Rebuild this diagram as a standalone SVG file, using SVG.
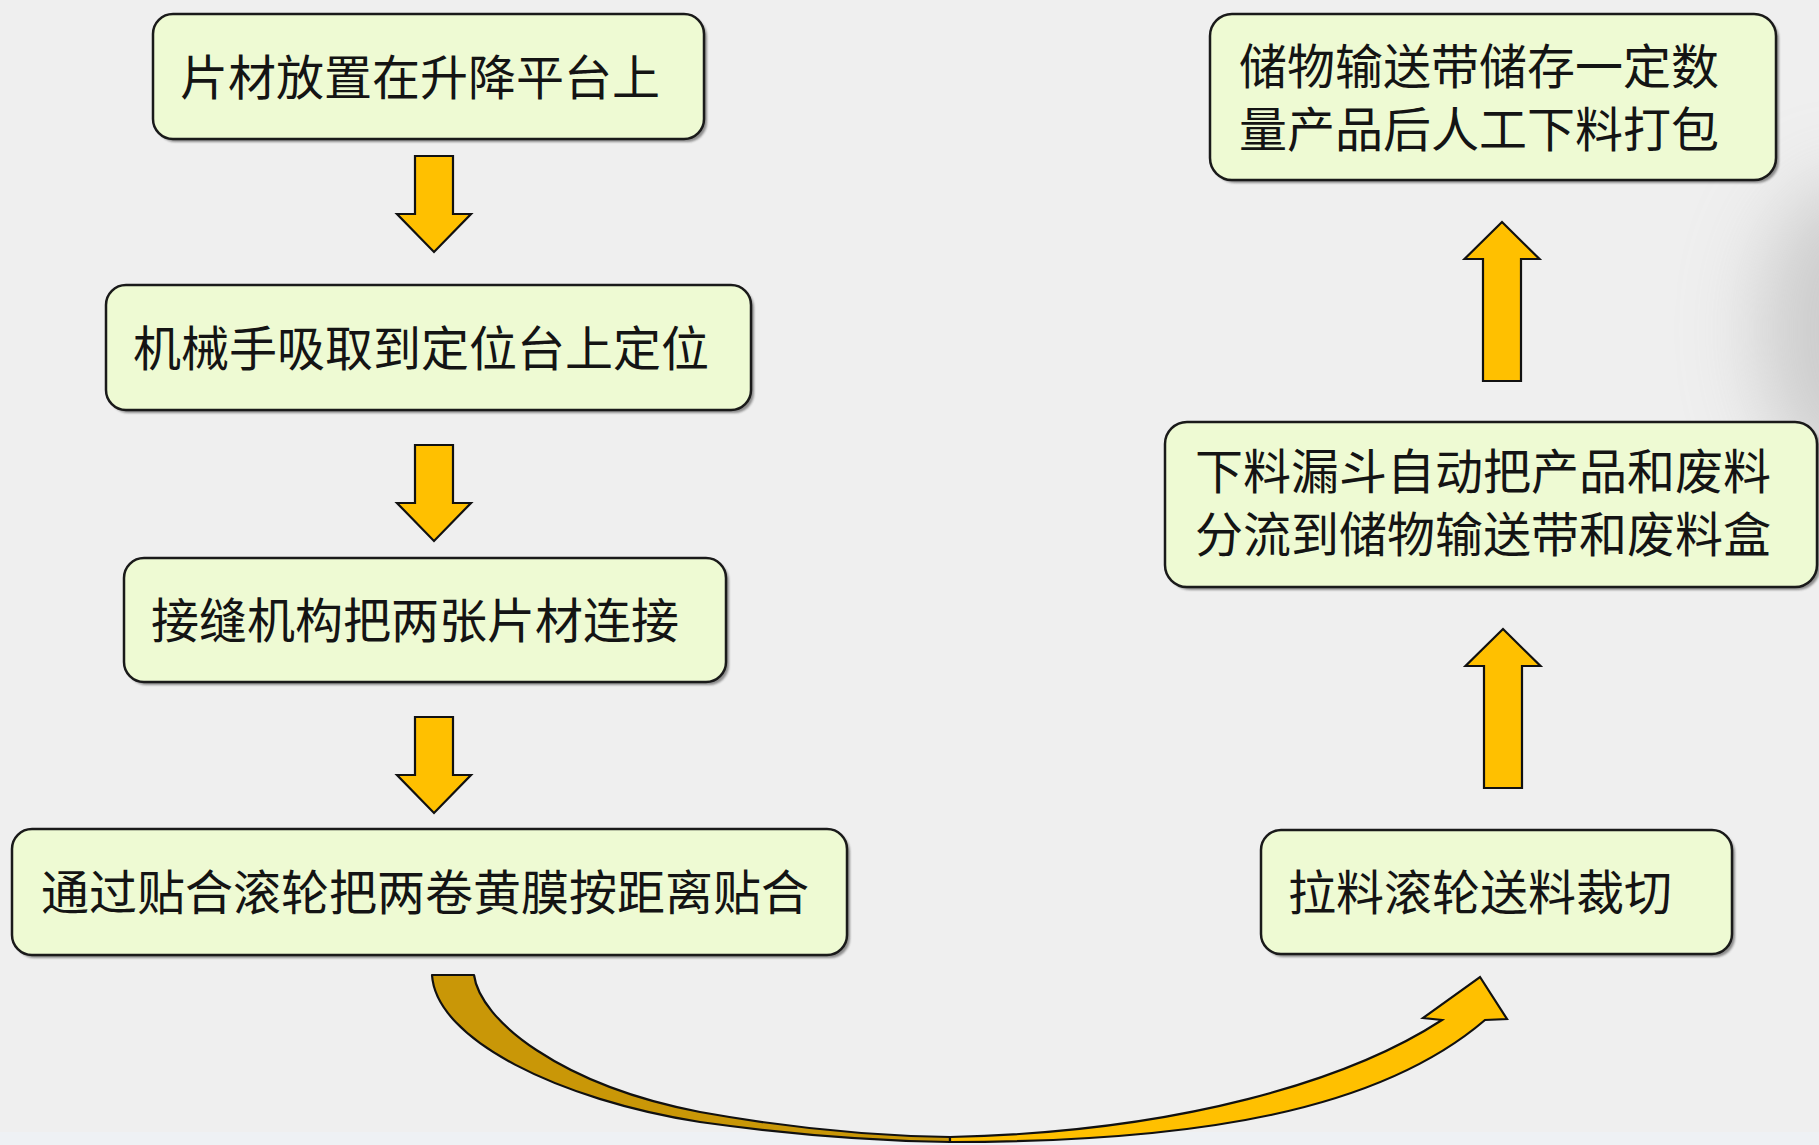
<svg xmlns="http://www.w3.org/2000/svg" xmlns:xlink="http://www.w3.org/1999/xlink" width="1819" height="1145" viewBox="0 0 1819 1145">
  <style>
    .box { fill: #EEFAD3; stroke: #1a1a1a; stroke-width: 2.5; }
    .shadow { fill: #3a3a3a; opacity: 0.55; }
    .lbl { font-family: "Noto Sans CJK SC", "Noto Sans", sans-serif; font-size: 48px; fill: #141414; }
    .arr { fill: #FFC000; stroke: #111; stroke-width: 2.2; stroke-linejoin: miter; }
    .arrdark { fill: #C99707; stroke: #111; stroke-width: 2.2; stroke-linejoin: round; }
  </style>
  <defs>
    <path id="downArrow" d="M-19,0 H19 V58 H37 L0,96 L-37,58 H-19 Z"/>
    <path id="upArrow" d="M0,0 L37.5,37 H19 V159 H-19 V37 H-37.5 Z"/>
    <filter id="blur" x="-50%" y="-50%" width="200%" height="200%">
      <feGaussianBlur stdDeviation="40"/>
    </filter>
    <filter id="sh" x="-5%" y="-5%" width="110%" height="110%">
      <feGaussianBlur stdDeviation="1.2"/>
    </filter>
  </defs>

  <rect x="0" y="0" width="1819" height="1145" fill="#EFEFEF"/>
  <ellipse cx="1850" cy="330" rx="90" ry="150" fill="#b5b5b5" opacity="0.6" filter="url(#blur)"/>
  <rect x="0" y="1132" width="1819" height="13" fill="#EEF1F4"/>

  <g id="connectors">
    <use xlink:href="#downArrow" class="arr" transform="translate(434,156)"/>
    <use xlink:href="#downArrow" class="arr" transform="translate(434,445)"/>
    <use xlink:href="#downArrow" class="arr" transform="translate(434,717)"/>
    <use xlink:href="#upArrow" class="arr" transform="translate(1502,222)"/>
    <use xlink:href="#upArrow" class="arr" transform="translate(1503,629)"/>
    <g id="curvedArrow">
      <path class="arrdark" d="M432,975 L474,975 C480,1020 560,1085 700,1112 C800,1130 880,1136 950,1137 L950,1142 C880,1141 800,1136 700,1122 C560,1100 436,1040 432,975 Z"/>
      <path class="arr" d="M950,1137 C1180,1132 1350,1080 1442,1020 L1423,1018 L1480,977 L1507,1019 L1485,1020 C1380,1110 1200,1142 950,1142 Z"/>
    </g>
  </g>

  <g id="node1">
    <rect class="shadow" x="156" y="17" width="551" height="125" rx="20" filter="url(#sh)"/>
    <rect class="box" x="153" y="14" width="551" height="125" rx="20"/>
    <text class="lbl" x="180" y="95">片材放置在升降平台上</text>
  </g>
  <g id="node2">
    <rect class="shadow" x="109" y="288" width="645" height="125" rx="20" filter="url(#sh)"/>
    <rect class="box" x="106" y="285" width="645" height="125" rx="20"/>
    <text class="lbl" x="133" y="366">机械手吸取到定位台上定位</text>
  </g>
  <g id="node3">
    <rect class="shadow" x="127" y="561" width="602" height="124" rx="20" filter="url(#sh)"/>
    <rect class="box" x="124" y="558" width="602" height="124" rx="20"/>
    <text class="lbl" x="151" y="638">接缝机构把两张片材连接</text>
  </g>
  <g id="node4">
    <rect class="shadow" x="15" y="832" width="835" height="126" rx="20" filter="url(#sh)"/>
    <rect class="box" x="12" y="829" width="835" height="126" rx="20"/>
    <text class="lbl" x="41" y="910">通过贴合滚轮把两卷黄膜按距离贴合</text>
  </g>
  <g id="node5">
    <rect class="shadow" x="1264" y="833" width="471" height="124" rx="20" filter="url(#sh)"/>
    <rect class="box" x="1261" y="830" width="471" height="124" rx="20"/>
    <text class="lbl" x="1288" y="910">拉料滚轮送料裁切</text>
  </g>
  <g id="node6">
    <rect class="shadow" x="1168" y="425" width="652" height="165" rx="22" filter="url(#sh)"/>
    <rect class="box" x="1165" y="422" width="652" height="165" rx="22"/>
    <text class="lbl" x="1195" y="489">下料漏斗自动把产品和废料<tspan x="1195" dy="63">分流到储物输送带和废料盒</tspan></text>
  </g>
  <g id="node7">
    <rect class="shadow" x="1213" y="17" width="566" height="166" rx="22" filter="url(#sh)"/>
    <rect class="box" x="1210" y="14" width="566" height="166" rx="22"/>
    <text class="lbl" x="1239" y="84">储物输送带储存一定数<tspan x="1239" dy="63">量产品后人工下料打包</tspan></text>
  </g>
</svg>
